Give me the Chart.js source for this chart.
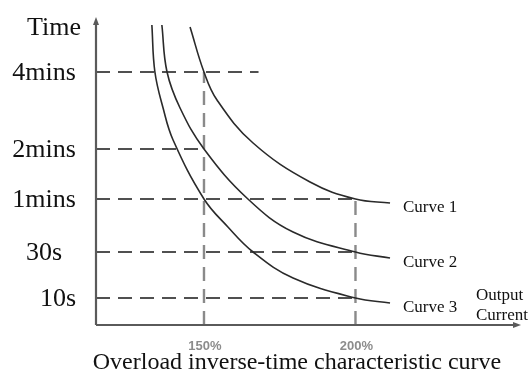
<!DOCTYPE html>
<html>
<head>
<meta charset="utf-8">
<script src="https://cdn.jsdelivr.net/npm/chart.js@4.4.1/dist/chart.umd.min.js"></script>
<style>
  html, body { margin: 0; padding: 0; background: #fff; }
  canvas { display: block; }
</style>
</head>
<body>
<canvas id="curve" width="529" height="371"></canvas>
<script>
// time axis is schematic: levels are relative heights, not seconds
var timeLabels = ['10s', '30s', '1mins', '2mins', '4mins']
var timeLevels = [27, 73, 126, 176, 253]
var timeGuideEnd = [200, 200, 200, 150, 168]

var currentLabels = ['150%', '200%']
var currentLevels = [150, 200]
var currentGuideTop = [253, 126]

var curveNames = ['Curve 1', 'Curve 2', 'Curve 3']
var curve1X = [145.4, 150, 154.3, 166.2, 185.0, 200, 211.4]
var curve1Y = [298, 253, 225, 182, 143, 126, 122]
var curve2X = [136.1, 137.8, 142.1, 150, 164.5, 179.4, 200, 211.4]
var curve2Y = [300, 253, 217, 176, 126, 93, 73, 67]
var curve3X = [132.8, 133.8, 136.5, 139.8, 150, 157.9, 166.2, 179.4, 200, 211.4]
var curve3Y = [300, 253, 217, 185, 126, 98, 73, 47, 27, 22]

var X_MIN = 114.36, X_MAX = 254.3
var Y_MIN = 0, Y_MAX = 307

var SERIF = '"Liberation Serif", "Times New Roman", serif'

function pts (xs, ys) {
  return xs.map(function (x, i) { return { x: x, y: ys[i] } })
}

var datasets = []

;[[curve1X, curve1Y], [curve2X, curve2Y], [curve3X, curve3Y]].forEach(function (c, i) {
  datasets.push({
    label: curveNames[i],
    data: pts(c[0], c[1]),
    borderColor: '#2a2a2a',
    borderWidth: 1.6,
    pointRadius: 0,
    tension: 0.4,
    fill: false
  })
})

// dashed guides across from the time labels
timeLevels.forEach(function (lvl, i) {
  datasets.push({
    label: 'h-' + timeLabels[i],
    data: [{ x: X_MIN, y: lvl }, { x: timeGuideEnd[i], y: lvl }],
    borderColor: '#505050',
    borderWidth: 2,
    borderDash: [14, 8],
    pointRadius: 0
  })
})

// dashed guides up from the current labels
currentLevels.forEach(function (lvl, i) {
  datasets.push({
    label: 'v-' + currentLabels[i],
    data: [{ x: lvl, y: Y_MIN }, { x: lvl, y: currentGuideTop[i] }],
    borderColor: '#8a8a8a',
    borderWidth: 2.4,
    borderDash: [14, 8],
    pointRadius: 0
  })
})

var decorations = {
  id: 'decorations',
  afterDraw: function (chart) {
    var ctx = chart.ctx
    var area = chart.chartArea
    var xs = chart.scales.x
    var ys = chart.scales.y
    ctx.save()

    // axes with arrow heads
    ctx.strokeStyle = '#5a5a5a'
    ctx.fillStyle = '#5a5a5a'
    ctx.lineWidth = 2.2
    ctx.beginPath()
    ctx.moveTo(area.left, area.bottom)
    ctx.lineTo(area.left, area.top + 4)
    ctx.moveTo(area.left, area.bottom)
    ctx.lineTo(area.right - 4, area.bottom)
    ctx.stroke()
    ctx.beginPath()
    ctx.moveTo(area.left, area.top - 1)
    ctx.lineTo(area.left - 3, area.top + 7)
    ctx.lineTo(area.left + 3, area.top + 7)
    ctx.closePath()
    ctx.fill()
    ctx.beginPath()
    ctx.moveTo(area.right + 1, area.bottom)
    ctx.lineTo(area.right - 7, area.bottom - 3)
    ctx.lineTo(area.right - 7, area.bottom + 3)
    ctx.closePath()
    ctx.fill()

    // time labels
    ctx.fillStyle = '#111'
    ctx.font = '26px ' + SERIF
    ctx.textAlign = 'center'
    ctx.textBaseline = 'alphabetic'
    timeLabels.forEach(function (t, i) {
      var cx = t === '10s' ? 58 : 44
      ctx.fillText(t, cx, ys.getPixelForValue(timeLevels[i]) + 8)
    })
    ctx.fillText('Time', 54, area.top + 17)

    // current labels
    ctx.fillStyle = '#8c8c8c'
    ctx.font = 'bold 13px "Liberation Sans", Arial, sans-serif'
    currentLabels.forEach(function (t, i) {
      ctx.fillText(t, xs.getPixelForValue(currentLevels[i]) + 1, area.bottom + 25)
    })

    // curve names at the right end of each curve
    ctx.fillStyle = '#111'
    ctx.font = '17px ' + SERIF
    ctx.textAlign = 'left'
    for (var i = 0; i < 3; i++) {
      var meta = chart.getDatasetMeta(i)
      var last = meta.data[meta.data.length - 1]
      ctx.fillText(curveNames[i], last.x + 13, last.y + 9)
    }

    ctx.fillText('Output', 476, area.bottom - 25)
    ctx.fillText('Current', 476, area.bottom - 5)

    ctx.textAlign = 'center'
    ctx.font = '24px ' + SERIF
    ctx.fillText('Overload inverse-time characteristic curve', 297, 369)

    ctx.restore()
  }
}

new Chart(document.getElementById('curve'), {
  type: 'line',
  data: { datasets: datasets },
  options: {
    responsive: false,
    animation: false,
    layout: { padding: { left: 96, top: 18, right: 9, bottom: 46 } },
    scales: {
      x: { type: 'linear', display: false, min: X_MIN, max: X_MAX },
      y: { type: 'linear', display: false, min: Y_MIN, max: Y_MAX }
    },
    plugins: {
      legend: { display: false },
      tooltip: { enabled: false }
    }
  },
  plugins: [decorations]
})
</script>
</body>
</html>
